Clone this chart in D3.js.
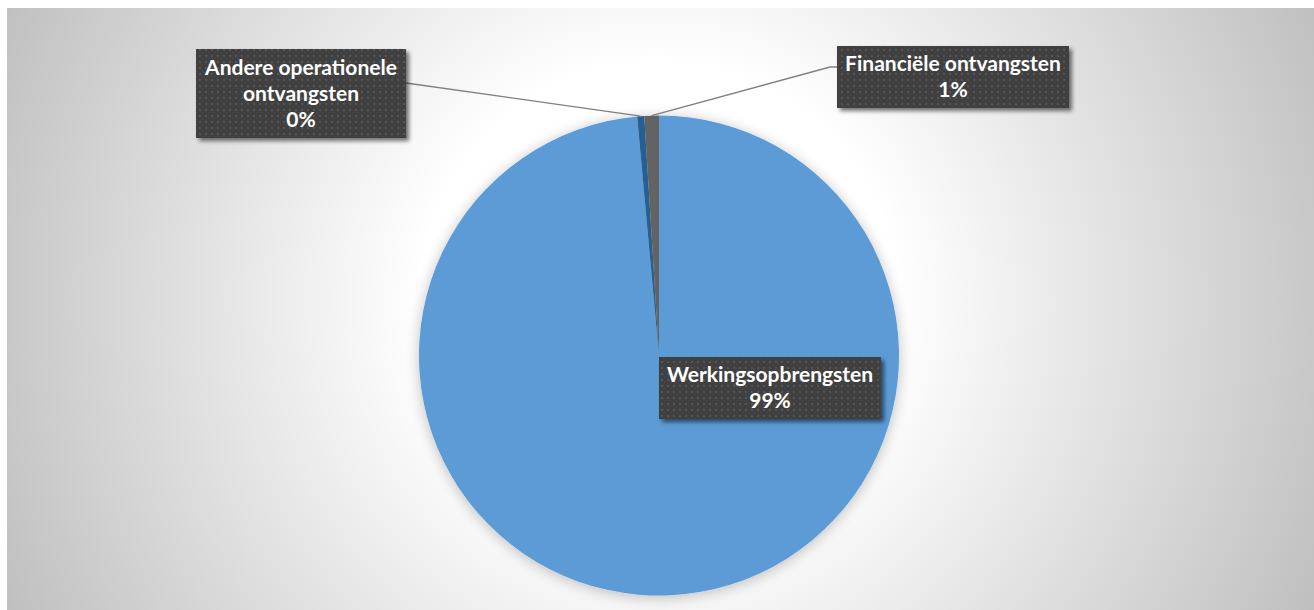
<!DOCTYPE html>
<html>
<head>
<meta charset="utf-8">
<script src="https://cdn.jsdelivr.net/npm/d3@7/dist/d3.min.js"></script>
<style>
  html, body { margin: 0; padding: 0; background: #ffffff; }
  svg { display: block; }
</style>
</head>
<body>
<script>
// Revenue breakdown (share of total, in %)
const categories = ["Werkingsopbrengsten", "Andere operationele ontvangsten", "Financiële ontvangsten"];
const values = [98.55, 0.47, 0.98];
const labelLines = [["Werkingsopbrengsten"], ["Andere operationele", "ontvangsten"], ["Financiële ontvangsten"]];
const colors = ["#5B9BD5", "#255E91", "#636363"];

const W = 1314, H = 610;
const cx = 659, cy = 355.5, R = 240;

const svg = d3.select("body").append("svg").attr("width", W).attr("height", H);
const defs = svg.append("defs");

// chart area background: radial gray-to-white fill
const bg = defs.append("radialGradient").attr("id", "bgGrad")
  .attr("gradientUnits", "userSpaceOnUse")
  .attr("cx", cx).attr("cy", 300).attr("r", 740);
bg.append("stop").attr("offset", "0").attr("stop-color", "#ffffff");
bg.append("stop").attr("offset", "0.32").attr("stop-color", "#ffffff");
bg.append("stop").attr("offset", "1").attr("stop-color", "#bdbdbd");

// dotted fill for the label boxes
const pat = defs.append("pattern").attr("id", "dots")
  .attr("patternUnits", "userSpaceOnUse").attr("width", 6).attr("height", 6);
pat.append("rect").attr("width", 6).attr("height", 6).attr("fill", "#3f3f3f");
pat.append("rect").attr("x", 1).attr("y", 1).attr("width", 2).attr("height", 2).attr("fill", "#575757");
pat.append("rect").attr("x", 4).attr("y", 4).attr("width", 1).attr("height", 1).attr("fill", "#4b4b4b");

// soft drop shadows
const sh = defs.append("filter").attr("id", "boxShadow")
  .attr("x", "-20%").attr("y", "-30%").attr("width", "140%").attr("height", "170%");
sh.append("feGaussianBlur").attr("in", "SourceAlpha").attr("stdDeviation", 2.2).attr("result", "b");
sh.append("feOffset").attr("in", "b").attr("dx", 3).attr("dy", 3).attr("result", "o");
sh.append("feComponentTransfer").attr("in", "o").attr("result", "s")
  .append("feFuncA").attr("type", "linear").attr("slope", 0.55);
const m1 = sh.append("feMerge");
m1.append("feMergeNode").attr("in", "s");
m1.append("feMergeNode").attr("in", "SourceGraphic");

const pieSh = defs.append("filter").attr("id", "pieShadow")
  .attr("x", "-20%").attr("y", "-20%").attr("width", "140%").attr("height", "140%");
pieSh.append("feGaussianBlur").attr("in", "SourceAlpha").attr("stdDeviation", 7).attr("result", "b");
pieSh.append("feOffset").attr("in", "b").attr("dx", 0).attr("dy", 2).attr("result", "o");
pieSh.append("feComponentTransfer").attr("in", "o").attr("result", "s")
  .append("feFuncA").attr("type", "linear").attr("slope", 0.25);
const m2 = pieSh.append("feMerge");
m2.append("feMergeNode").attr("in", "s");
m2.append("feMergeNode").attr("in", "SourceGraphic");

svg.append("rect").attr("x", 7).attr("y", 8).attr("width", W).attr("height", H)
  .attr("fill", "url(#bgGrad)");

// pie
const data = categories.map((c, i) => ({ name: c, value: values[i], lines: labelLines[i], color: colors[i] }));
const pie = d3.pie().sort(null).value(d => d.value);
const arcs = pie(data);
const arc = d3.arc().innerRadius(0).outerRadius(R);
const color = d3.scaleOrdinal().domain(categories).range(colors);

const total = d3.sum(values);
const pct = d3.format(".0%");

const g = svg.append("g").attr("transform", `translate(${cx},${cy})`);
g.append("g").attr("filter", "url(#pieShadow)")
  .selectAll("path").data(arcs).join("path")
  .attr("d", arc)
  .attr("fill", d => color(d.data.name));

// label box layout (box left/top, width, height)
const boxes = [
  { x: 659, y: 357, w: 222, h: 62 },
  { x: 196, y: 49,  w: 210, h: 89 },
  { x: 837, y: 46,  w: 232, h: 62 }
];

// leader lines for the outside labels
const edgePoint = a => {
  const m = (a.startAngle + a.endAngle) / 2;
  return [cx + R * Math.sin(m), cy - R * Math.cos(m)];
};
const leader = d3.line();
const p1 = edgePoint(arcs[1]);
svg.append("path")
  .attr("d", leader([[boxes[1].x + boxes[1].w, 83], p1]))
  .attr("fill", "none").attr("stroke", "#7f7f7f").attr("stroke-width", 1.3);
const p2 = edgePoint(arcs[2]);
svg.append("path")
  .attr("d", leader([p2, [830, 67], [boxes[2].x, 67]]))
  .attr("fill", "none").attr("stroke", "#7f7f7f").attr("stroke-width", 1.3);

// data labels
const fontSize = 21, lineH = 26;
arcs.forEach((a, i) => {
  const b = boxes[i];
  const lab = svg.append("g");
  lab.append("rect").attr("x", b.x).attr("y", b.y).attr("width", b.w).attr("height", b.h)
    .attr("fill", "url(#dots)").attr("filter", "url(#boxShadow)");
  const lines = a.data.lines.concat([pct(a.data.value / total)]);
  const top = b.y + b.h / 2 - (lines.length - 1) * lineH / 2;
  lines.forEach((t, k) => {
    lab.append("text")
      .attr("x", b.x + b.w / 2)
      .attr("y", top + k * lineH)
      .attr("dy", "0.35em")
      .attr("text-anchor", "middle")
      .attr("font-family", "Lato, 'Open Sans', sans-serif")
      .attr("font-weight", "bold")
      .attr("font-size", fontSize)
      .attr("fill", "#ffffff")
      .text(t);
  });
});
</script>
</body>
</html>
